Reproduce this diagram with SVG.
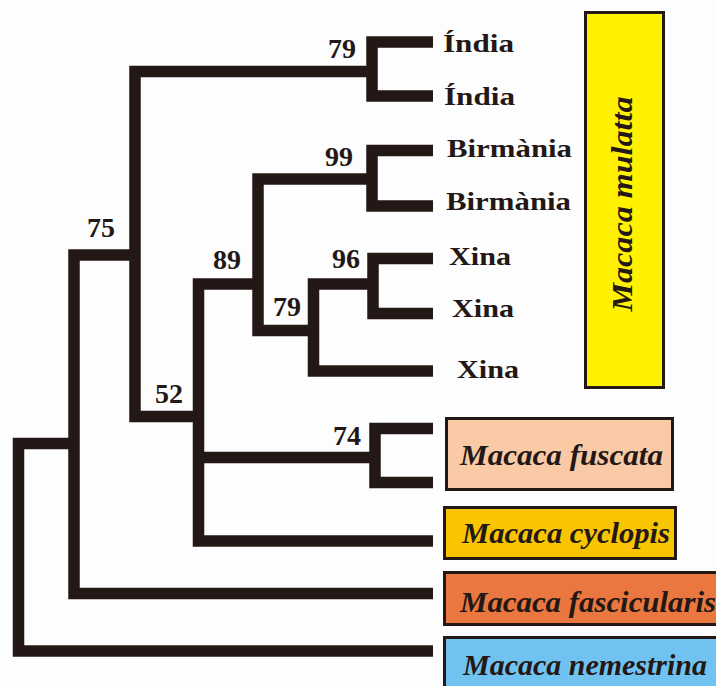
<svg xmlns="http://www.w3.org/2000/svg" width="716" height="686" viewBox="0 0 716 686">
<style>
.br{fill:none;stroke:#231815;stroke-width:11.5;stroke-linejoin:miter;stroke-linecap:butt}
text{font-family:'Liberation Serif','Times New Roman',Times,serif;font-weight:700;fill:#231815}
.num{font-size:28px}
.leaf{font-size:26px}
.sp{font-style:italic;font-size:30px}
.box{stroke:#231815;stroke-width:3}
</style>
<rect width="716" height="686" fill="#fdfdfd"/>
<g id="connectors">
<path class="br" d="M74 443.5 H18.5 V651 H433"/>
<path class="br" d="M135 255 H74 V593.5 H433"/>
<path class="br" d="M372 71.5 H135 V416.5 H198.5"/>
<path class="br" d="M433 42 H372 V96 H433"/>
<path class="br" d="M258 284 H198.5 V541 H433"/>
<path class="br" d="M198.5 457.5 H375"/>
<path class="br" d="M372 179 H258 V330.5 H313.5"/>
<path class="br" d="M433 150.5 H372 V206 H433"/>
<path class="br" d="M373 284 H313.5 V371 H433"/>
<path class="br" d="M433 258.5 H373 V313.5 H433"/>
<path class="br" d="M433 428.5 H375 V482.5 H433"/>
</g>
<g id="support" font-family="Liberation Serif, serif">
<text class="num" x="328" y="58">79</text>
<text class="num" x="325" y="166">99</text>
<text class="num" x="87" y="237">75</text>
<text class="num" x="213" y="269">89</text>
<text class="num" x="332" y="268">96</text>
<text class="num" x="273" y="316">79</text>
<text class="num" x="155" y="403">52</text>
<text class="num" x="333" y="445">74</text>
</g>
<g id="leaf-india-1"><text class="leaf" x="443" y="52" textLength="71" lengthAdjust="spacingAndGlyphs">Índia</text></g>
<g id="leaf-india-2"><text class="leaf" x="444" y="105" textLength="71" lengthAdjust="spacingAndGlyphs">Índia</text></g>
<g id="leaf-birmania-1"><text class="leaf" x="447" y="157" textLength="125" lengthAdjust="spacingAndGlyphs">Birmània</text></g>
<g id="leaf-birmania-2"><text class="leaf" x="446" y="210" textLength="125" lengthAdjust="spacingAndGlyphs">Birmània</text></g>
<g id="leaf-xina-1"><text class="leaf" x="449" y="265" textLength="62" lengthAdjust="spacingAndGlyphs">Xina</text></g>
<g id="leaf-xina-2"><text class="leaf" x="452" y="317" textLength="62" lengthAdjust="spacingAndGlyphs">Xina</text></g>
<g id="leaf-xina-3"><text class="leaf" x="457" y="378" textLength="62" lengthAdjust="spacingAndGlyphs">Xina</text></g>
<g id="mulatta">
<rect class="box" x="585.5" y="12.5" width="78" height="375" fill="#fff100"/>
<text class="sp" transform="translate(632 204) rotate(-90)" text-anchor="middle" textLength="215" lengthAdjust="spacingAndGlyphs">Macaca mulatta</text>
</g>
<g id="fuscata">
<rect class="box" x="446.5" y="418.5" width="226" height="71" fill="#f9caa5"/>
<text class="sp" x="460" y="465" textLength="203" lengthAdjust="spacingAndGlyphs">Macaca fuscata</text>
</g>
<g id="cyclopis">
<rect class="box" x="444.5" y="507.5" width="231" height="51" fill="#f9c400"/>
<text class="sp" x="462" y="543" textLength="208" lengthAdjust="spacingAndGlyphs">Macaca cyclopis</text>
</g>
<g id="fascicularis">
<rect class="box" x="444.5" y="572.5" width="280" height="52" fill="#e9773f"/>
<text class="sp" x="460" y="612" textLength="256" lengthAdjust="spacingAndGlyphs">Macaca fascicularis</text>
</g>
<g id="nemestrina">
<rect class="box" x="444.5" y="637.5" width="280" height="60" fill="#70c3f0"/>
<text class="sp" x="463" y="675" textLength="244" lengthAdjust="spacingAndGlyphs">Macaca nemestrina</text>
</g>
</svg>
